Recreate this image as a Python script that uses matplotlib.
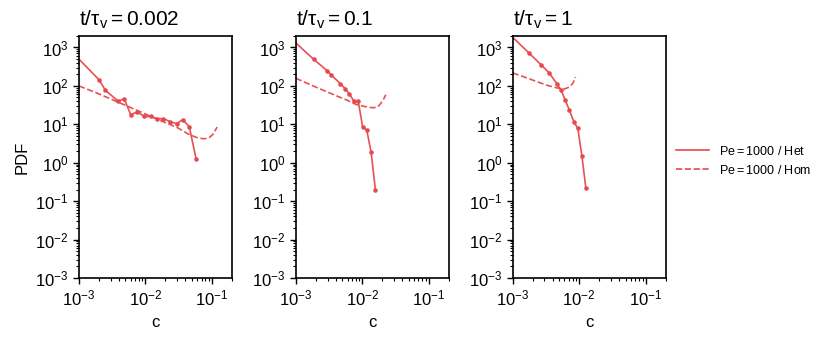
import matplotlib
matplotlib.use("Agg")
import matplotlib.pyplot as plt
from matplotlib.lines import Line2D

plt.rcParams['font.family'] = ['Liberation Sans', 'DejaVu Sans']
plt.rcParams['mathtext.fontset'] = 'custom'
plt.rcParams['mathtext.rm'] = 'Liberation Sans'
plt.rcParams['mathtext.it'] = 'Liberation Sans'
plt.rcParams['mathtext.sf'] = 'Liberation Sans'

red = '#e5484d'

titles = [r'$\mathrm{t/\tau_v = 0.002}$', r'$\mathrm{t/\tau_v = 0.1}$', r'$\mathrm{t/\tau_v = 1}$']

# heterogeneous (solid, markers)
het_c = [
    [0.0008, 0.002, 0.0025, 0.0039, 0.0048, 0.006, 0.0076, 0.0096, 0.012, 0.015, 0.0187,
     0.0235, 0.0295, 0.0363, 0.0458, 0.058],
    [0.00085, 0.00186, 0.00295, 0.00343, 0.00468, 0.0055, 0.00638, 0.0075, 0.0087, 0.0101,
     0.0117, 0.0136, 0.0158],
    [0.00095, 0.00174, 0.00267, 0.00352, 0.00463, 0.00537, 0.00617, 0.00708, 0.00832,
     0.00955, 0.011, 0.0126],
]
het_p = [
    [740, 145, 77, 40, 46, 18, 21, 16, 16, 14, 14, 11.8, 10.4, 13.2, 8.7, 1.24],
    [1700, 490, 250, 190, 115, 85, 62, 40, 40, 8.7, 7, 1.85, 0.19],
    [2000, 730, 355, 220, 113, 76, 43, 24, 11.7, 7.8, 1.5, 0.22],
]

# homogeneous (dashed)
hom_c = [
    [0.001, 0.002, 0.004, 0.008, 0.016, 0.03, 0.045, 0.06, 0.075, 0.09, 0.105, 0.12],
    [0.001, 0.002, 0.004, 0.006, 0.008, 0.011, 0.0145, 0.017, 0.019, 0.0215, 0.0225],
    [0.001, 0.0018, 0.0032, 0.0046, 0.006, 0.0072, 0.0081, 0.0088],
]
hom_p = [
    [100, 62, 37, 22, 13, 8.3, 5.5, 4.5, 4.2, 4.4, 5.6, 8.5],
    [158, 93, 56, 42, 33, 29, 27, 28, 35, 49, 59],
    [218, 152, 105, 89, 83, 94, 120, 171],
]

fig = plt.figure(figsize=(8.31, 3.42), dpi=100)
lefts = [0.095, 0.356, 0.617]
axes = []
for i in range(3):
    ax = fig.add_axes([lefts[i], 0.187, 0.184, 0.708])
    axes.append(ax)
    ax.plot(het_c[i], het_p[i], '-', color=red, lw=1.2, marker='o', ms=2.3, alpha=0.95)
    ax.plot(hom_c[i], hom_p[i], '--', color=red, lw=1.2, alpha=0.95)
    ax.set_xscale('log')
    ax.set_yscale('log')
    ax.set_xlim(1e-3, 0.2)
    ax.set_ylim(1e-3, 2e3)
    ax.set_xticks([1e-3, 1e-2, 1e-1])
    ax.set_yticks([1e-3, 1e-2, 1e-1, 1, 10, 100, 1000])
    ax.tick_params(axis='both', which='major', direction='out', length=4, width=1, labelsize=12)
    ax.tick_params(axis='both', which='minor', direction='out', length=2, width=0.8)
    for s in ax.spines.values():
        s.set_linewidth(1.2)
    ax.set_xlabel('c', fontsize=12, labelpad=5)
    ax.set_title(titles[i], loc='left', fontsize=15, pad=7)

axes[0].set_ylabel('PDF', fontsize=12)

handles = [Line2D([], [], color=red, lw=1.2, ls='-'),
           Line2D([], [], color=red, lw=1.2, ls='--')]
fig.legend(handles, [r'$\mathrm{Pe = 1000}$ / Het', r'$\mathrm{Pe = 1000}$ / Hom'],
           loc='center left', bbox_to_anchor=(0.8, 0.53), frameon=False, fontsize=9,
           handlelength=2.6)

fig.savefig('out.png', dpi=100)
